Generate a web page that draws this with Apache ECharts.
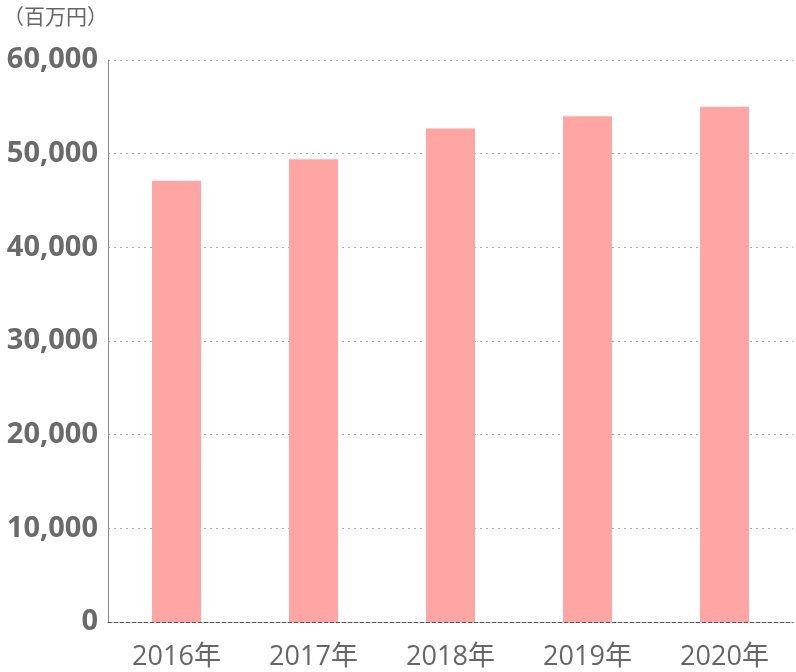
<!DOCTYPE html>
<html><head><meta charset="utf-8">
<script src="https://cdn.jsdelivr.net/npm/echarts@6/dist/echarts.min.js"></script>
<style>html,body{margin:0;padding:0;background:#fff}#c{width:796px;height:672px}</style>
</head><body><div id="c"></div>
<script>
const categories = ['2016年','2017年','2018年','2019年','2020年'];
const values = [47100, 49400, 52700, 54000, 55000];
const unitLabel = '（百万円）';
const yMin = 0, yMax = 60000, yInterval = 10000;

const chart = echarts.init(document.getElementById('c'));
chart.setOption({
  animation: false,
  textStyle: {fontFamily: '"Noto Sans CJK JP", "Open Sans", sans-serif'},
  graphic: [{type:'text', left: 3, top: 6, style:{text: unitLabel, fontSize: 21, fill:'#666', fontFamily:'"Noto Sans CJK JP", sans-serif'}}],
  grid: {left: 108, right: 3, top: 60, bottom: 50, containLabel: false},
  xAxis: {
    type: 'category', data: categories,
    axisLine: {show: true, lineStyle: {color: '#555', type: 'dashed', width: 1}},
    axisTick: {show: false},
    axisLabel: {color: '#666', fontSize: 27, margin: 22, fontFamily: '"Open Sans", "Noto Sans CJK JP", sans-serif'}
  },
  yAxis: {
    type: 'value', min: yMin, max: yMax, interval: yInterval,
    axisLine: {show: true, lineStyle: {color: '#888', width: 1}},
    axisTick: {show: false},
    splitLine: {show: true, lineStyle: {color: '#aaa', type: [2, 4], width: 1}},
    axisLabel: {color: '#6a6a6a', fontSize: 29, fontWeight: 'bold', margin: 10,
      fontFamily: '"Open Sans", sans-serif',
      formatter: v => v.toLocaleString('en-US')}
  },
  series: [{type: 'bar', data: values, barWidth: 49, itemStyle: {color: '#ffa6a4'}}]
});
</script></body></html>
